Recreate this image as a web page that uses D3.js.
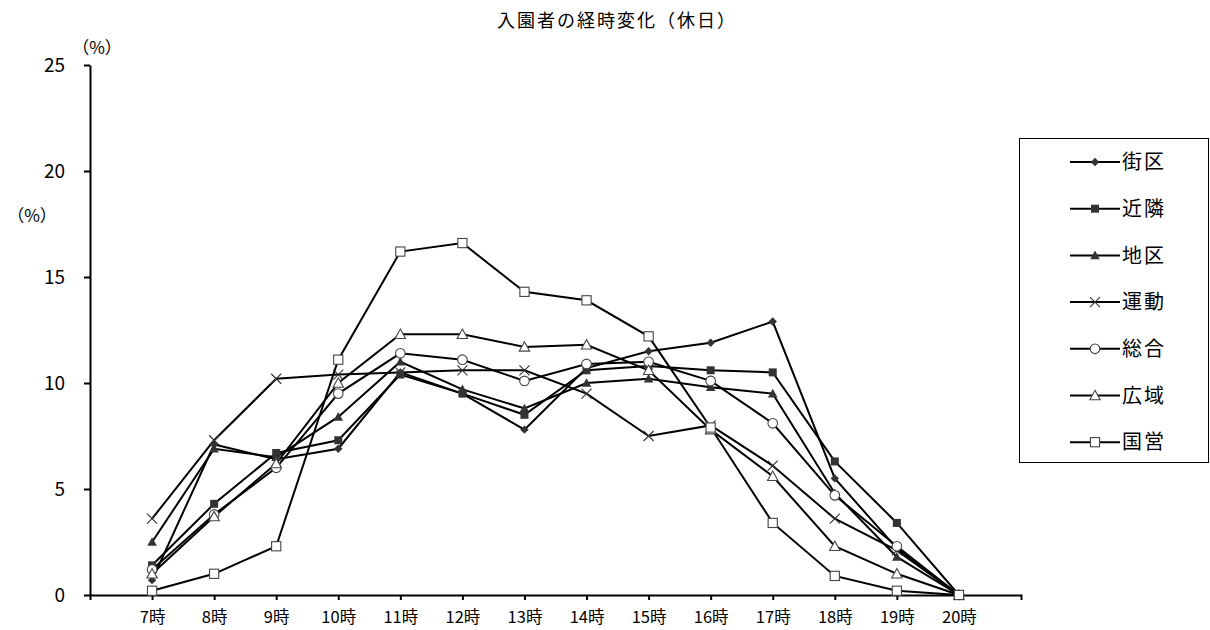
<!DOCTYPE html>
<html><head><meta charset="utf-8">
<script src="https://cdn.jsdelivr.net/npm/d3@7"></script>
<style>
html,body{margin:0;padding:0;background:#fff;}
svg{display:block;font-family:"Noto Sans CJK JP","Noto Sans",sans-serif;}
</style></head>
<body>
<svg id="c" width="1210" height="630"></svg>
<script>
const categories = ["7時","8時","9時","10時","11時","12時","13時","14時","15時","16時","17時","18時","19時","20時"];
const seriesNames = ["街区","近隣","地区","運動","総合","広域","国営"];
const gaiku   = [0.7, 7.1, 6.4, 6.9, 10.5, 9.5, 7.8, 10.7, 11.5, 11.9, 12.9, 5.5, 2.2, 0];
const kinrin  = [1.4, 4.3, 6.7, 7.3, 10.4, 9.5, 8.5, 10.6, 10.8, 10.6, 10.5, 6.3, 3.4, 0];
const chiku   = [2.5, 6.9, 6.5, 8.4, 11.0, 9.7, 8.8, 10.0, 10.2, 9.8, 9.5, 4.8, 1.8, 0];
const undou   = [3.6, 7.3, 10.2, 10.4, 10.5, 10.6, 10.6, 9.5, 7.5, 8.0, 6.1, 3.6, 2.1, 0];
const sougou  = [1.2, 3.8, 6.0, 9.5, 11.4, 11.1, 10.1, 10.9, 11.0, 10.1, 8.1, 4.7, 2.3, 0];
const kouiki  = [1.0, 3.7, 6.2, 10.0, 12.3, 12.3, 11.7, 11.8, 10.6, 7.8, 5.6, 2.3, 1.0, 0];
const kokuei  = [0.2, 1.0, 2.3, 11.1, 16.2, 16.6, 14.3, 13.9, 12.2, 7.9, 3.4, 0.9, 0.2, 0];
const seriesValues = [gaiku, kinrin, chiku, undou, sougou, kouiki, kokuei];
const markerTypes = ["diamond","squareF","triangleF","cross","circle","triangleO","squareO"];
const yTicks = [0,5,10,15,20,25];
const titleText = "入園者の経時変化（休日）";
const yUnit = "（%）";

const svg = d3.select("#c");
const x = d3.scalePoint().domain(categories).range([90, 1021]).padding(1);
const y = d3.scaleLinear().domain([0, 25]).range([595, 65]);
const FW = 400;

// title
svg.append("text").attr("x", 617).attr("y", 27).attr("text-anchor","middle")
  .attr("font-size", 18).attr("font-weight", FW).attr("letter-spacing", 2).attr("fill","#000").text(titleText);
svg.append("text").attr("x", 97).attr("y", 54).attr("text-anchor","middle")
  .attr("font-size", 17).attr("font-weight", FW).attr("fill","#000").text(yUnit);
svg.append("text").attr("x", 32).attr("y", 222).attr("text-anchor","middle")
  .attr("font-size", 17).attr("font-weight", FW).attr("fill","#000").text(yUnit);

// axes
const yAxis = svg.append("g").attr("transform","translate(90,0)")
  .call(d3.axisLeft(y).tickValues(yTicks).tickSize(6).tickSizeOuter(0).tickPadding(19));
yAxis.selectAll("path,line").attr("stroke","#000").attr("stroke-width",2);
yAxis.selectAll("text").attr("font-size",19).attr("font-weight", FW).attr("fill","#000").attr("font-family","'Noto Sans CJK JP',sans-serif");

const xAxis = svg.append("g").attr("transform","translate(0,595)")
  .call(d3.axisBottom(x).tickSize(5).tickSizeOuter(5).tickPadding(11));
xAxis.selectAll("path,line").attr("stroke","#000").attr("stroke-width",2);
xAxis.selectAll("text").attr("font-size",16.5).attr("font-weight", FW).attr("fill","#000").attr("font-family","'Noto Sans CJK JP',sans-serif");

// markers
function drawMarker(g, type, cx, cy) {
  const s = g.append("g").attr("transform", `translate(${cx},${cy})`);
  switch(type){
    case "diamond": s.append("path").attr("d","M0,-4.2L4.2,0L0,4.2L-4.2,0Z").attr("fill","#333"); break;
    case "squareF": s.append("rect").attr("x",-4).attr("y",-4).attr("width",8).attr("height",8).attr("fill","#333"); break;
    case "triangleF": s.append("path").attr("d","M0,-4.8L4.8,3.8L-4.8,3.8Z").attr("fill","#333"); break;
    case "cross": s.append("path").attr("d","M-5,-5L5,5M-5,5L5,-5").attr("stroke","#333").attr("stroke-width",1.1).attr("fill","none"); break;
    case "circle": s.append("circle").attr("r",4.8).attr("fill","#fff").attr("stroke","#444").attr("stroke-width",1.1); break;
    case "triangleO": s.append("path").attr("d","M0,-5.2L5.2,4.2L-5.2,4.2Z").attr("fill","#fff").attr("stroke","#444").attr("stroke-width",1.1); break;
    case "squareO": s.append("rect").attr("x",-4.6).attr("y",-4.6).attr("width",9.2).attr("height",9.2).attr("fill","#fff").attr("stroke","#444").attr("stroke-width",1.1); break;
  }
}

const line = d3.line().x((d,i)=>x(categories[i])).y(d=>y(d));
const plot = svg.append("g");
seriesValues.forEach((vals) => {
  plot.append("path").datum(vals).attr("d", line).attr("fill","none").attr("stroke","#000").attr("stroke-width",2);
});
seriesValues.forEach((vals, si) => {
  const g = plot.append("g");
  vals.forEach((v,i)=> drawMarker(g, markerTypes[si], x(categories[i]), y(v)));
});

// legend
const lg = svg.append("g");
lg.append("rect").attr("x",1019.5).attr("y",138.5).attr("width",189).attr("height",324)
  .attr("fill","#fff").attr("stroke","#000").attr("stroke-width",1);
seriesNames.forEach((n,i)=>{
  const cy = 162 + i*46.7;
  lg.append("line").attr("x1",1070).attr("x2",1120).attr("y1",cy).attr("y2",cy).attr("stroke","#000").attr("stroke-width",2);
  drawMarker(lg, markerTypes[i], 1095, cy);
  lg.append("text").attr("x",1122).attr("y",cy).attr("dy","0.36em").attr("font-size",20).attr("font-weight", FW)
    .attr("letter-spacing",2).attr("fill","#000").text(n);
});
</script>
</body></html>
